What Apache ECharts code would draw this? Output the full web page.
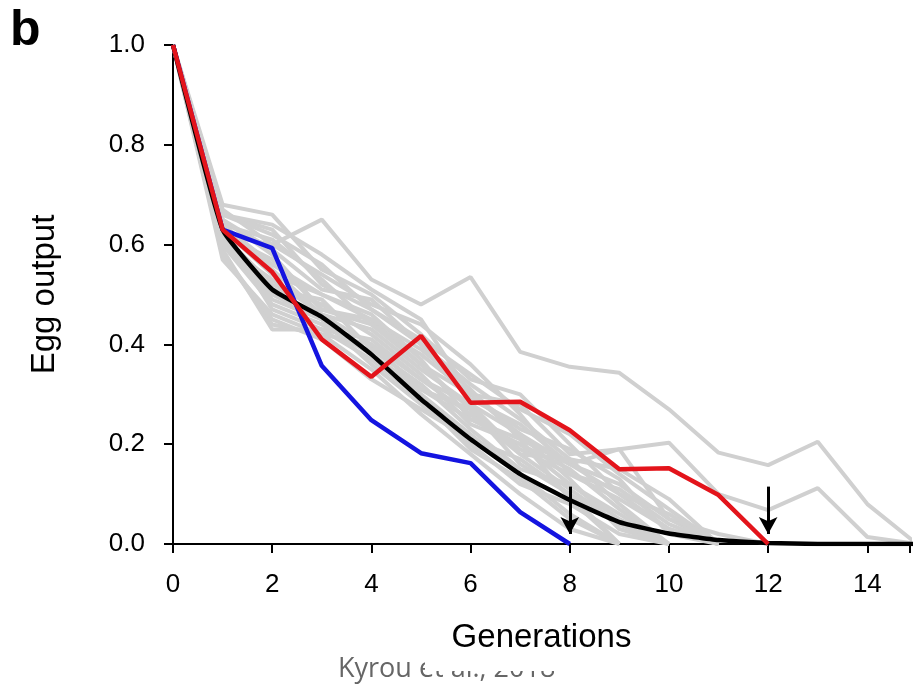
<!DOCTYPE html>
<html>
<head>
<meta charset="utf-8">
<script src="https://cdn.jsdelivr.net/npm/echarts@6/dist/echarts.min.js"></script>
<style>
html,body{margin:0;padding:0;background:#fff;}
#chart{width:913px;height:684px;}
</style>
</head>
<body>
<div id="chart"></div>
<script>
const generations = [0,1,2,3,4,5,6,7,8,9,10,11,12,13,14,15];
const xTicks = [0,2,4,6,8,10,12,14];
const yTicks = [0.0,0.2,0.4,0.6,0.8,1.0];

const grayRuns = [
  [1, 0.62, 0.60, 0.65, 0.53, 0.48, 0.535, 0.385, 0.355, 0.343, 0.27, 0.183, 0.158, 0.205, 0.08, 0],
  [1, 0.64, 0.56, 0.50, 0.45, 0.36, 0.30, 0.22, 0.16, 0.19, 0.203, 0.10, 0.068, 0.112, 0.014, 0],
  [1, 0.66, 0.63, 0.52, 0.47, 0.40, 0.32, 0.25, 0.17, 0.08, 0],
  [1, 0.60, 0.48, 0.44, 0.38, 0.30, 0.22, 0.14, 0.06, 0],
  [1, 0.58, 0.44, 0.42, 0.35, 0.26, 0.18, 0.10, 0.03, 0],
  [1, 0.68, 0.66, 0.55, 0.50, 0.42, 0.33, 0.30, 0.20, 0.10, 0.03, 0],
  [1, 0.65, 0.58, 0.47, 0.44, 0.38, 0.30, 0.28, 0.18, 0.19, 0.05, 0],
  [1, 0.62, 0.52, 0.48, 0.42, 0.34, 0.24, 0.20, 0.12, 0.05, 0],
  [1, 0.57, 0.46, 0.42, 0.40, 0.31, 0.27, 0.16, 0.10, 0],
  [1, 0.63, 0.54, 0.50, 0.46, 0.37, 0.25, 0.20, 0.15, 0.07, 0],
  [1, 0.67, 0.60, 0.54, 0.48, 0.44, 0.36, 0.26, 0.14, 0.11, 0.04, 0],
  [1, 0.61, 0.50, 0.45, 0.36, 0.28, 0.20, 0.12, 0.08, 0.02, 0],
  [1, 0.64, 0.55, 0.46, 0.43, 0.35, 0.28, 0.22, 0.13, 0.03, 0],
  [1, 0.59, 0.43, 0.43, 0.41, 0.33, 0.26, 0.18, 0.11, 0.04, 0],
  [1, 0.66, 0.62, 0.56, 0.47, 0.41, 0.34, 0.27, 0.22, 0.14, 0.07, 0],
  [1, 0.60, 0.51, 0.49, 0.39, 0.32, 0.23, 0.15, 0.12, 0.06, 0],
  [1, 0.63, 0.47, 0.43, 0.37, 0.29, 0.19, 0.13, 0.05, 0],
  [1, 0.65, 0.59, 0.51, 0.49, 0.40, 0.29, 0.24, 0.16, 0.12, 0.05, 0.02, 0],
  [1, 0.62, 0.57, 0.47, 0.45, 0.39, 0.31, 0.21, 0.09, 0],
  [1, 0.58, 0.45, 0.41, 0.33, 0.27, 0.21, 0.17, 0.10, 0.04, 0],
  [1, 0.64, 0.61, 0.53, 0.44, 0.36, 0.27, 0.19, 0.14, 0.09, 0.03, 0],
  [1, 0.61, 0.49, 0.45, 0.38, 0.31, 0.25, 0.21, 0.16, 0.10, 0.06, 0],
  [1, 0.66, 0.64, 0.58, 0.51, 0.45, 0.30, 0.23, 0.19, 0.13, 0.02, 0],
  [1, 0.60, 0.53, 0.46, 0.40, 0.33, 0.28, 0.18, 0.17, 0.15, 0.09, 0]
];
const meanRun = [1, 0.63, 0.51, 0.455, 0.38, 0.29, 0.21, 0.14, 0.088, 0.044, 0.021, 0.008, 0.002, 0, 0, 0];
const redRun  = [1, 0.63, 0.545, 0.41, 0.335, 0.417, 0.283, 0.285, 0.228, 0.15, 0.152, 0.098, 0];
const blueRun = [1, 0.63, 0.593, 0.357, 0.248, 0.182, 0.162, 0.064, 0];
const arrowGens = [8, 12];
const arrowFrom = 0.115;
const arrowTo = 0.02;

function pairs(run){ return run.map((v,i)=>[generations[i], v]); }

const series = [];
grayRuns.forEach((r)=>{
  series.push({type:'line', data:pairs(r), symbol:'none', silent:true,
    lineStyle:{color:'#d0d0d0', width:4}, z:2});
});
series.push({type:'line', data:pairs(blueRun), symbol:'none', lineStyle:{color:'#1414e0', width:4.5}, z:4});
series.push({type:'line', data:pairs(meanRun), symbol:'none', smooth:0.12, lineStyle:{color:'#000', width:4.5}, z:5});
series.push({type:'line', data:pairs(redRun), symbol:'none', lineStyle:{color:'#e3141b', width:4.5}, z:6,
  markLine:{silent:true, symbol:['none','arrow'], symbolSize:[14,17], label:{show:false},
    lineStyle:{color:'#000', width:3, type:'solid'},
    data: arrowGens.map(g=>[{coord:[g, arrowFrom]},{coord:[g, arrowTo]}])}
});

const chart = echarts.init(document.getElementById('chart'), null, {renderer:'canvas'});
chart.setOption({
  animation:false,
  backgroundColor:'#fff',
  grid:{left:173, top:45, bottom:140, right:0, containLabel:false},
  xAxis:{type:'value', min:0, max:14.86, interval:2,
    name:'Generations', nameLocation:'middle', nameGap:77,
    nameTextStyle:{fontSize:33, color:'#000', fontFamily:'Liberation Sans'},
    axisLine:{show:true, lineStyle:{color:'#000', width:2}},
    axisTick:{show:true, length:9, lineStyle:{color:'#000', width:2}},
    axisLabel:{fontSize:26, color:'#000', margin:28, fontFamily:'Liberation Sans',
      formatter:v=> xTicks.indexOf(v)>=0 ? String(v) : ''},
    splitLine:{show:false}},
  yAxis:{type:'value', min:0, max:1, interval:0.2,
    name:'Egg output', nameLocation:'middle', nameGap:112,
    nameTextStyle:{fontSize:33, color:'#000', fontFamily:'Liberation Sans'},
    axisLine:{show:true, lineStyle:{color:'#000', width:2}},
    axisTick:{show:true, length:9, lineStyle:{color:'#000', width:2}},
    axisLabel:{fontSize:26, color:'#000', margin:28, fontFamily:'Liberation Sans',
      formatter:v=>{ const t = yTicks.find(y=>Math.abs(y-v)<1e-9); return t===undefined?'':t.toFixed(1);} },
    splitLine:{show:false}},
  graphic:[
    {type:'text', left:10, top:6, style:{text:'b', fontSize:50, fontWeight:'bold', fill:'#000', fontFamily:'Liberation Sans'}},
    {type:'text', left:338, top:656, z:1, style:{text:'Kyrou et al., 2018', fontSize:27, fill:'#666', fontFamily:'Open Sans'}},
    {type:'rect', left:425, top:655, z:2, shape:{width:150, height:16}, style:{fill:'#fff'}}
  ],
  series:series
});
</script>
</body>
</html>
